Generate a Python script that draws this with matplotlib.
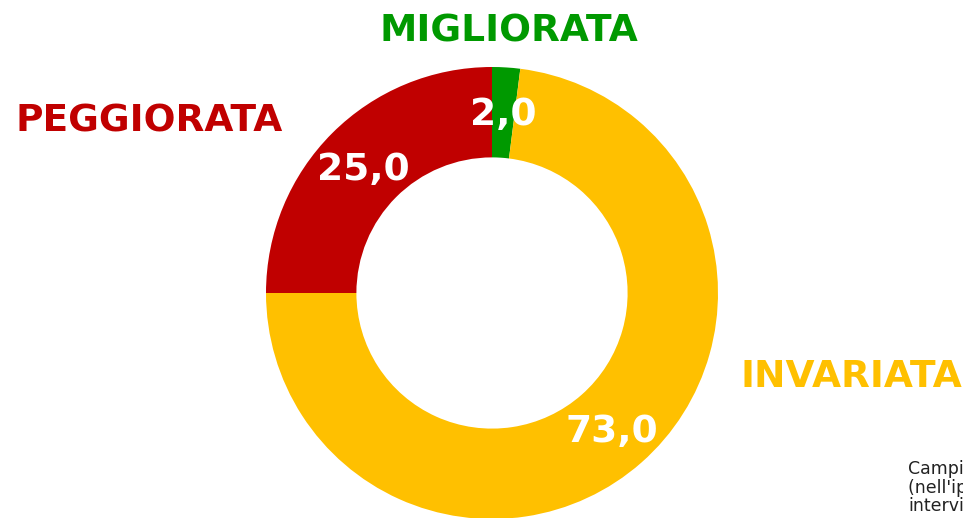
import matplotlib
matplotlib.use("Agg")
import matplotlib.pyplot as plt

categories = ["MIGLIORATA", "INVARIATA", "PEGGIORATA"]
values = [2.0, 73.0, 25.0]
colors = ["#009900", "#FFC000", "#C00000"]
value_labels = ["2,0", "73,0", "25,0"]

fig = plt.figure(figsize=(9.63, 5.18), dpi=100)
ax = fig.add_axes([266/963, -1/518, 452/963, 452/518])
wedges, _ = ax.pie(values, colors=colors, startangle=90, counterclock=False,
                   radius=1.0, wedgeprops=dict(width=0.4, edgecolor="none"))
ax.set_xlim(-1, 1)
ax.set_ylim(-1, 1)
ax.set_aspect("equal")
ax.axis("off")

fam = ["DejaVu Sans"]
# value labels (figure pixel coordinates from top-left)
val_pos = [(503, 115), (612, 432), (363, 170)]
for (x, y), t in zip(val_pos, value_labels):
    fig.text(x/963, 1 - y/518, t, color="white", fontsize=27, fontweight="bold",
             ha="center", va="center", family=fam)

# category labels
fig.text(509/963, 1 - 32/518, categories[0], color=colors[0], fontsize=27,
         fontweight="bold", ha="center", va="center", family=fam)
fig.text(149/963, 1 - 122/518, categories[2], color=colors[2], fontsize=27,
         fontweight="bold", ha="center", va="center", family=fam)
fig.text(740/963, 1 - 377/518, categories[1], color=colors[1], fontsize=27,
         fontweight="bold", ha="left", va="center", family=fam)

fig.text(908/963, 1 - 460/518,
         "Campione: totale intervistati\n(nell'ipotesi di risposta\nintervistati",
         color="#222222", fontsize=12.5, ha="left", va="top", linespacing=1.05,
         family=fam)

fig.savefig("out.png", dpi=100)
